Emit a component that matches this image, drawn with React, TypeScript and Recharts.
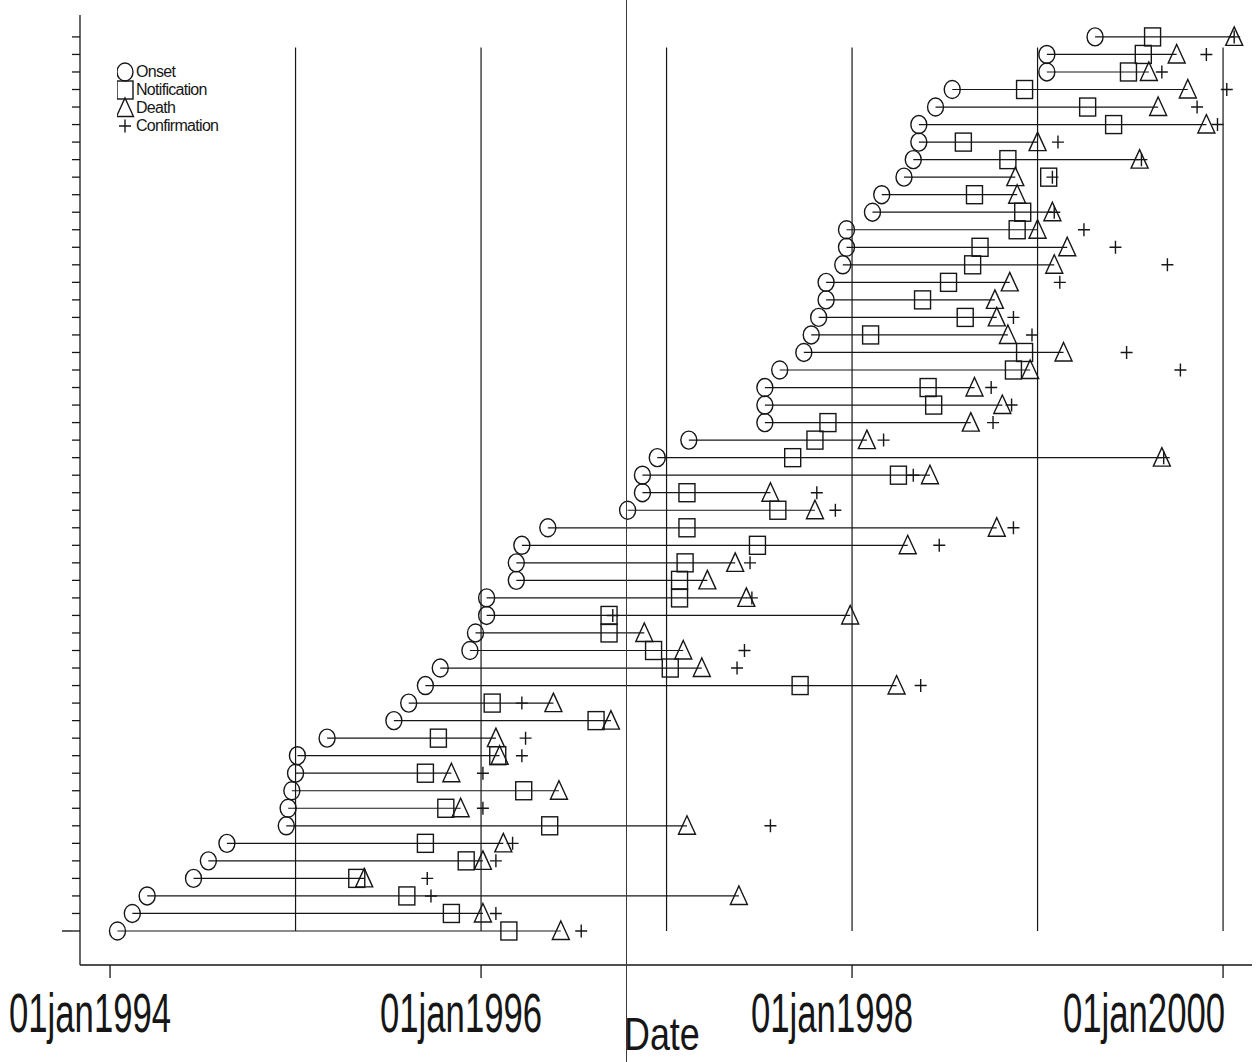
import { ScatterChart, Scatter, XAxis, YAxis, ReferenceLine, Legend } from "recharts";

// one entry per case, bottom row first; dates as decimal years
const onset = [
  1994.04, 1994.12, 1994.2, 1994.45, 1994.53, 1994.63, 1994.95, 1994.96, 1994.98, 1995.0,
  1995.01, 1995.17, 1995.53, 1995.61, 1995.7, 1995.78, 1995.94, 1995.97, 1996.03, 1996.03,
  1996.19, 1996.19, 1996.22, 1996.36, 1996.79, 1996.87, 1996.87, 1996.95, 1997.12, 1997.53,
  1997.53, 1997.53, 1997.61, 1997.74, 1997.78, 1997.82, 1997.86, 1997.86, 1997.95, 1997.97,
  1997.97, 1998.11, 1998.16, 1998.28, 1998.33, 1998.36, 1998.36, 1998.45, 1998.54, 1999.05,
  1999.05, 1999.31,
];
const notification = [
  1996.15, 1995.84, 1995.6, 1995.33, 1995.92, 1995.7, 1996.37, 1995.81, 1996.23, 1995.7,
  1996.09, 1995.77, 1996.62, 1996.06, 1997.72, 1997.02, 1996.93, 1996.69, 1996.69, 1997.07,
  1997.07, 1997.1, 1997.49, 1997.11, 1997.6, 1997.11, 1998.25, 1997.68, 1997.8, 1997.87,
  1998.44, 1998.41, 1998.87, 1998.93, 1998.1, 1998.61, 1998.38, 1998.52, 1998.65, 1998.69,
  1998.89, 1998.92, 1998.66, 1999.06, 1998.84, 1998.6, 1999.41, 1999.27, 1998.93, 1999.49,
  1999.57, 1999.62,
];
const death = [
  1996.43, 1996.01, 1997.39, 1995.37, 1996.01, 1996.12, 1997.11, 1995.89, 1996.42, 1995.84,
  1996.1, 1996.08, 1996.7, 1996.39, 1998.24, 1997.19, 1997.09, 1996.88, 1997.99, 1997.43,
  1997.22, 1997.37, 1998.3, 1998.78, 1997.8, 1997.56, 1998.42, 1999.67, 1998.08, 1998.64,
  1998.81, 1998.66, 1998.96, 1999.14, 1998.84, 1998.78, 1998.77, 1998.85, 1999.09, 1999.16,
  1999.0, 1999.08, 1998.89, 1998.88, 1999.55, 1999.0, 1999.91, 1999.65, 1999.81, 1999.6,
  1999.75, 2000.06,
];
const confirmation = [
  1996.54, 1996.08, 1995.73, 1995.71, 1996.08, 1996.17, 1997.56, 1996.01, null, 1996.01,
  1996.22, 1996.24, null, 1996.22, 1998.37, 1997.38, 1997.42, null, 1996.71, 1997.46,
  null, 1997.45, 1998.47, 1998.87, 1997.91, 1997.81, 1998.33, 1999.68, 1998.17, 1998.76,
  1998.86, 1998.75, 1999.77, 1999.48, 1998.97, 1998.87, null, 1999.12, 1999.7, 1999.42,
  1999.25, 1999.09, null, 1999.08, 1999.56, 1999.11, 1999.97, 1999.86, 2000.02, 1999.67,
  1999.91, 2000.06,
];

const yearLines = [1995, 1996, 1997, 1998, 1999, 2000];
const tickYears = [1994, 1996, 1998, 2000];
const tickLabels = ["01jan1994", "01jan1996", "01jan1998", "01jan2000"];
const legendItems = ["Onset", "Notification", "Death", "Confirmation"];

const INK = "#161616";
const FONT = "'Liberation Sans', Arial, sans-serif";

const toPoints = (values: (number | null)[]) =>
  values.flatMap((v, i) => (v == null ? [] : [{ x: v, y: i }]));

const rowTicks = onset.map((_, i) => i);

function Ring({ cx, cy }: any) {
  return <ellipse cx={cx} cy={cy} rx={8} ry={9} fill="none" stroke={INK} strokeWidth={1.4} />;
}
function Box({ cx, cy }: any) {
  return <rect x={cx - 8} y={cy - 9} width={16} height={18} fill="none" stroke={INK} strokeWidth={1.4} />;
}
function Tri({ cx, cy }: any) {
  return (
    <path d={`M${cx},${cy - 10} L${cx + 8.5},${cy + 8.5} L${cx - 8.5},${cy + 8.5} Z`} fill="none" stroke={INK} strokeWidth={1.4} />
  );
}
function Cross({ cx, cy }: any) {
  return <path d={`M${cx - 6},${cy} H${cx + 6} M${cx},${cy - 6.5} V${cy + 6.5}`} stroke={INK} strokeWidth={1.4} />;
}
const Nothing = () => <g />;

const legendShapes = [Ring, Box, Tri, Cross];

function CaseLegend() {
  return (
    <svg width={120} height={76} style={{ display: "block" }}>
      {legendItems.map((name, i) => {
        const Shape = legendShapes[i];
        const cy = 11 + i * 18;
        return (
          <g key={name}>
            <Shape cx={8} cy={cy} />
            <text x={19} y={cy + 5} fontFamily={FONT} fontSize={16} letterSpacing={-0.7} fill={INK}>
              {name}
            </text>
          </g>
        );
      })}
    </svg>
  );
}

function DateTick({ x, y, payload }: any) {
  const i = tickYears.indexOf(payload.value);
  const last = i === tickYears.length - 1;
  const tx = last ? x + 2 : x - 20;
  return (
    <text
      transform={`translate(${tx},${y + 52}) scale(0.62,1)`}
      textAnchor={last ? "end" : "middle"}
      fontFamily={FONT}
      fontSize={56}
      fill={INK}
    >
      {tickLabels[i]}
    </text>
  );
}

function RowTick({ x, y, payload }: any) {
  if (payload.value !== 0) return <g />;
  return <line x1={x - 8} x2={x + 2} y1={y} y2={y} stroke={INK} strokeWidth={1.4} />;
}

function DateTitle() {
  return (
    <text transform="translate(624,1050) scale(0.78,1)" fontFamily={FONT} fontSize={46} fill={INK}>
      Date
    </text>
  );
}

export default function App() {
  return (
    <div style={{ position: "absolute", left: 0, top: 0, width: 1258, height: 1062, background: "#fff" }}>
      <ScatterChart width={1258} height={1062} margin={{ top: 15, right: 6, bottom: 0, left: 60 }}>
        <XAxis
          type="number"
          dataKey="x"
          domain={[1993.838, 2000.156]}
          ticks={tickYears}
          interval={0}
          tick={<DateTick />}
          tickSize={13}
          height={97}
          stroke={INK}
          strokeWidth={1.3}
          label={{ content: () => <DateTitle /> }}
          allowDataOverflow
        />
        <YAxis
          type="number"
          dataKey="y"
          domain={[-1.94, 52.25]}
          ticks={rowTicks}
          interval={0}
          tick={<RowTick />}
          tickSize={8}
          width={20}
          stroke={INK}
          strokeWidth={1.3}
          allowDataOverflow
        />
        <Legend
          layout="horizontal"
          verticalAlign="middle"
          align="center"
          content={() => <CaseLegend />}
          wrapperStyle={{ position: "absolute", left: 117, top: 61, width: 120, height: 76 }}
        />
        {yearLines.map((yr) => (
          <ReferenceLine
            key={yr}
            segment={[
              { x: yr, y: 0 },
              { x: yr, y: 50.4 },
            ]}
            stroke={INK}
            strokeWidth={1.2}
          />
        ))}
        {onset.map((start, i) => (
          <Scatter
            key={`span-${i}`}
            data={[
              { x: start, y: i },
              { x: death[i], y: i },
            ]}
            line={{ stroke: INK, strokeWidth: 1.2 }}
            shape={Nothing}
            legendType="none"
            isAnimationActive={false}
          />
        ))}
        <Scatter name="Onset" data={toPoints(onset)} shape={Ring} isAnimationActive={false} />
        <Scatter name="Notification" data={toPoints(notification)} shape={Box} isAnimationActive={false} />
        <Scatter name="Death" data={toPoints(death)} shape={Tri} isAnimationActive={false} />
        <Scatter name="Confirmation" data={toPoints(confirmation)} shape={Cross} isAnimationActive={false} />
      </ScatterChart>
      <div style={{ position: "absolute", left: 626, top: 0, width: 1, height: 1062, background: "#3a3a3a" }} />
    </div>
  );
}
